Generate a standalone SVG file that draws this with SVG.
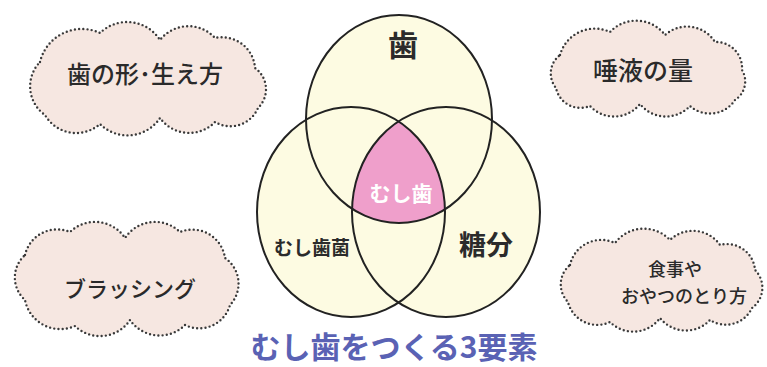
<svg xmlns="http://www.w3.org/2000/svg" width="767" height="367" viewBox="0 0 767 367">
<style>
.cloud{fill:#F6E7E1;stroke:#3a3a3a;stroke-width:2.4;stroke-dasharray:0 4.2;stroke-linecap:round;stroke-linejoin:round}
.ct{font-family:"Noto Sans CJK JP","Noto Sans",sans-serif;fill:#2a2a2a;text-anchor:middle;font-weight:500}
.vf{fill:#FDFBE2;stroke:none}
.vs{fill:none;stroke:#222;stroke-width:2}
.vt{font-family:"Noto Sans CJK JP","Noto Sans",sans-serif;font-weight:bold;fill:#2b2b2b;text-anchor:middle}
</style>
<defs>
<clipPath id="cL"><ellipse cx="351" cy="212" rx="94" ry="105"/></clipPath>
<clipPath id="cR"><ellipse cx="446" cy="212" rx="94" ry="105"/></clipPath>
</defs>
<rect width="767" height="367" fill="#ffffff"/>

<g id="cloud-tl">
<path class="cloud" d="M40,62 A43,43 0 0 1 100,33 A39,39 0 0 1 160,40 A36,36 0 0 1 215,38 A33,33 0 0 1 255,68 A26,26 0 0 1 258,108 A30,30 0 0 1 215,122 A36,36 0 0 1 160,118 A39,39 0 0 1 100,124 A36,36 0 0 1 45,115 A35,35 0 0 1 40,62 Z"/>
<text class="ct" x="145" y="83" font-size="24">歯の形･生え方</text>
</g>

<g id="cloud-tr">
<path class="cloud" d="M560,55 A36,36 0 0 1 610,32 A36,36 0 0 1 665,35 A33,33 0 0 1 715,42 A26,26 0 0 1 742,70 A22,22 0 0 1 735,100 A30,30 0 0 1 690,106 A33,33 0 0 1 640,104 A33,33 0 0 1 590,106 A25,25 0 0 1 556,88 A23,23 0 0 1 560,55 Z"/>
<text class="ct" x="643" y="80" font-size="25">唾液の量</text>
</g>

<g id="cloud-bl">
<path class="cloud" d="M25,255 A33,33 0 0 1 70,232 A36,36 0 0 1 125,238 A36,36 0 0 1 180,232 A33,33 0 0 1 225,258 A31,31 0 0 1 230,305 A32,32 0 0 1 185,325 A36,36 0 0 1 130,320 A36,36 0 0 1 75,326 A36,36 0 0 1 25,300 A30,30 0 0 1 25,255 Z"/>
<text class="ct" x="130" y="297" font-size="22">ブラッシング</text>
</g>

<g id="cloud-br">
<path class="cloud" d="M570,265 A32,32 0 0 1 615,243 A36,36 0 0 1 670,240 A33,33 0 0 1 720,245 A28,28 0 0 1 755,270 A25,25 0 0 1 752,308 A29,29 0 0 1 710,320 A33,33 0 0 1 660,318 A33,33 0 0 1 610,322 A30,30 0 0 1 568,302 A25,25 0 0 1 570,265 Z"/>
<text class="ct" x="675" y="276" font-size="18">食事や</text>
<text class="ct" x="684" y="303" font-size="18">おやつのとり方</text>
</g>

<g id="venn-fill">
<ellipse class="vf" cx="399" cy="119" rx="93" ry="104"/>
<ellipse class="vf" cx="351" cy="212" rx="94" ry="105"/>
<ellipse class="vf" cx="446" cy="212" rx="94" ry="105"/>
<g clip-path="url(#cL)"><ellipse cx="399" cy="119" rx="93" ry="104" fill="#EF9FCB" clip-path="url(#cR)"/></g>
</g>

<g id="connectors">
<ellipse class="vs" cx="399" cy="119" rx="93" ry="104"/>
<ellipse class="vs" cx="351" cy="212" rx="94" ry="105"/>
<ellipse class="vs" cx="446" cy="212" rx="94" ry="105"/>
</g>

<g id="node-ha"><text class="vt" x="403" y="56" font-size="30">歯</text></g>
<g id="node-mushiba"><text class="vt" x="401" y="201" font-size="21" style="fill:#ffffff">むし歯</text></g>
<g id="node-kin"><text class="vt" x="312" y="255" font-size="19">むし歯菌</text></g>
<g id="node-toubun"><text class="vt" x="486" y="255" font-size="27">糖分</text></g>

<g id="title"><text x="394" y="358" font-family="Noto Sans CJK JP, Noto Sans, sans-serif" font-weight="bold" font-size="30" fill="#5A62B4" text-anchor="middle">むし歯をつくる3要素</text></g>
</svg>
